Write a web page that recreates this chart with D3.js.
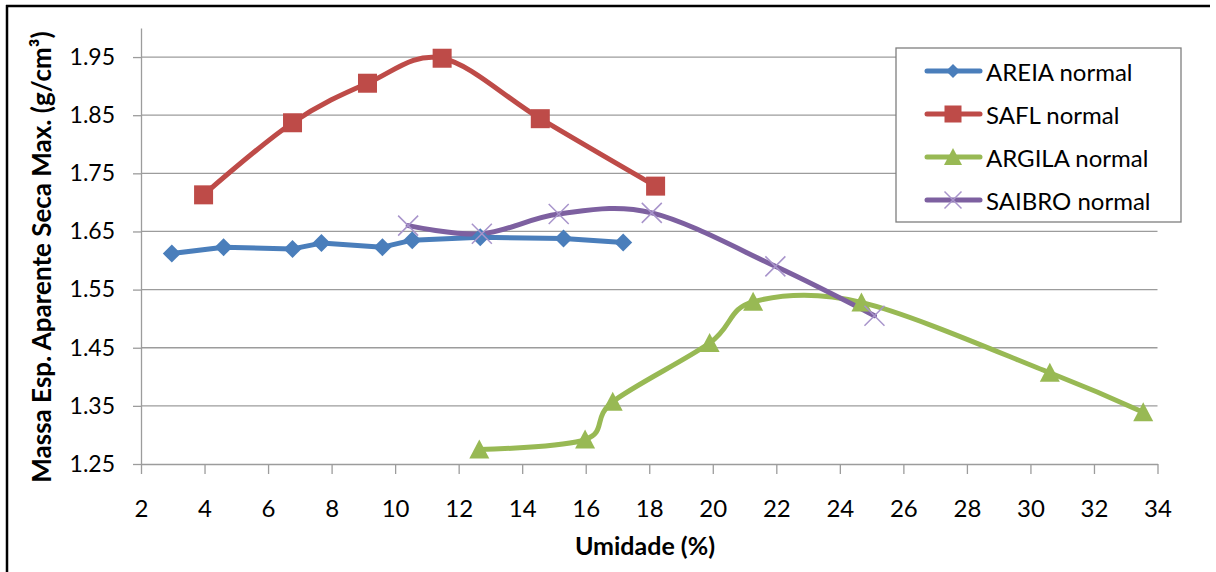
<!DOCTYPE html>
<html>
<head>
<meta charset="utf-8">
<script src="https://cdn.jsdelivr.net/npm/d3@7"></script>
<style>
  html, body { margin: 0; padding: 0; background: #fff; }
  svg { display: block; }
  text { font-family: Lato, "Noto Sans", sans-serif; fill: #000; }
</style>
</head>
<body>
<svg id="chart" width="1216" height="572"></svg>
<script>
// Compaction curves: dry unit weight vs. moisture content
const seriesNames = ["AREIA normal", "SAFL normal", "ARGILA normal", "SAIBRO normal"];

const areiaX = [2.97, 4.6, 6.77, 7.68, 9.6, 10.54, 12.68, 15.3, 17.18];
const areiaY = [1.612, 1.623, 1.620, 1.630, 1.623, 1.635, 1.640, 1.638, 1.631];

const saflX = [3.97, 6.77, 9.13, 11.48, 14.57, 18.2];
const saflY = [1.713, 1.837, 1.905, 1.948, 1.844, 1.728];

const argilaX = [12.65, 15.98, 16.85, 19.9, 21.27, 24.68, 30.61, 33.55];
const argilaY = [1.275, 1.292, 1.357, 1.458, 1.529, 1.528, 1.407, 1.339];

const saibroX = [10.41, 12.73, 15.15, 18.08, 21.97, 25.09];
const saibroY = [1.660, 1.646, 1.680, 1.682, 1.590, 1.505];

const xTicks = [2, 4, 6, 8, 10, 12, 14, 16, 18, 20, 22, 24, 26, 28, 30, 32, 34];
const yTicks = [1.25, 1.35, 1.45, 1.55, 1.65, 1.75, 1.85, 1.95];

const xTitle = "Umidade (%)";
const yTitle = "Massa Esp. Aparente Seca Max. (g/cm³)";

const svg = d3.select("#chart");

const x = d3.scaleLinear().domain([2, 34]).range([141, 1157.5]);
const y = d3.scaleLinear().domain([1.25, 2.0]).range([464, 28]);

// outer frame (top and left edges visible)
svg.append("line").attr("x1", 6).attr("x2", 1210).attr("y1", 6).attr("y2", 6)
  .attr("stroke", "#000").attr("stroke-width", 2.5);
svg.append("line").attr("x1", 7).attr("x2", 7).attr("y1", 5).attr("y2", 572)
  .attr("stroke", "#000").attr("stroke-width", 2.5);

// horizontal gridlines
svg.append("g")
  .selectAll("line")
  .data(yTicks.filter(d => d > 1.25))
  .join("line")
  .attr("x1", x(2)).attr("x2", x(34))
  .attr("y1", d => y(d)).attr("y2", d => y(d))
  .attr("stroke", "#9c9c9c").attr("stroke-width", 1.3);

// axes
const xAxis = d3.axisBottom(x).tickValues(xTicks).tickSize(10).tickSizeOuter(0).tickPadding(26)
  .tickFormat(d3.format("d"));
const gx = svg.append("g").attr("transform", `translate(0,${y(1.25)})`).call(xAxis);
gx.select(".domain").attr("stroke", "#9c9c9c").attr("stroke-width", 1.3);
gx.selectAll(".tick line").attr("stroke", "#9c9c9c").attr("stroke-width", 1.3);
gx.selectAll(".tick text").attr("font-size", 24).attr("font-family", "Lato").attr("fill", "#000");

const yAxis = d3.axisLeft(y).tickValues(yTicks).tickSize(8).tickSizeOuter(0).tickPadding(18)
  .tickFormat(d3.format(".2f"));
const gy = svg.append("g").attr("transform", `translate(${x(2)},0)`).call(yAxis);
gy.select(".domain").attr("stroke", "#9c9c9c").attr("stroke-width", 1.3);
gy.selectAll(".tick line").attr("stroke", "#9c9c9c").attr("stroke-width", 1.3);
gy.selectAll(".tick text").attr("font-size", 23).attr("font-family", "Lato").attr("fill", "#000");

// axis titles
svg.append("text")
  .attr("x", 645).attr("y", 545)
  .attr("text-anchor", "middle").attr("dominant-baseline", "central")
  .attr("font-size", 25).attr("font-weight", "bold")
  .text(xTitle);

svg.append("text")
  .attr("transform", "translate(41,257) rotate(-90)")
  .attr("text-anchor", "middle").attr("dominant-baseline", "central")
  .attr("font-size", 26).attr("font-weight", "bold")
  .text(yTitle);

// series definitions
const series = [
  { name: seriesNames[0], xs: areiaX, ys: areiaY, color: "#4a7ebb", curve: d3.curveLinear, marker: "diamond" },
  { name: seriesNames[1], xs: saflX, ys: saflY, color: "#be4b48", curve: d3.curveCatmullRom.alpha(0), marker: "square" },
  { name: seriesNames[2], xs: argilaX, ys: argilaY, color: "#98b954", curve: d3.curveCatmullRom.alpha(0), marker: "triangle" },
  { name: seriesNames[3], xs: saibroX, ys: saibroY, color: "#7d60a0", curve: d3.curveCatmullRom.alpha(0), marker: "cross" }
];

function drawMarker(g, type, color, size) {
  const s = size / 2;
  if (type === "diamond") {
    g.append("path").attr("d", `M0,${-s}L${s},0L0,${s}L${-s},0Z`).attr("fill", color);
  } else if (type === "square") {
    g.append("rect").attr("x", -s).attr("y", -s).attr("width", size).attr("height", size).attr("fill", color);
  } else if (type === "triangle") {
    g.append("path").attr("d", `M0,${-s}L${s},${s * 0.9}L${-s},${s * 0.9}Z`).attr("fill", color);
  } else if (type === "cross") {
    g.append("path").attr("d", `M${-s},${-s}L${s},${s}M${-s},${s}L${s},${-s}`)
      .attr("stroke", "#a894cb").attr("stroke-width", 1.5).attr("fill", "none");
  }
}

const markerSize = { diamond: 18, square: 19, triangle: 20, cross: 20 };

const plot = svg.append("g");
series.forEach(s => {
  const pts = s.xs.map((v, i) => [v, s.ys[i]]);
  const line = d3.line().x(d => x(d[0])).y(d => y(d[1])).curve(s.curve);
  plot.append("path").datum(pts)
    .attr("d", line).attr("fill", "none")
    .attr("stroke", s.color).attr("stroke-width", 5)
    .attr("stroke-linejoin", "round").attr("stroke-linecap", "round");
});
series.forEach(s => {
  s.xs.forEach((v, i) => {
    const g = plot.append("g").attr("transform", `translate(${x(v)},${y(s.ys[i])})`);
    drawMarker(g, s.marker, s.color, markerSize[s.marker]);
  });
});

// legend
const legend = svg.append("g");
legend.append("rect").attr("x", 896).attr("y", 48).attr("width", 285).attr("height", 174)
  .attr("fill", "#fff").attr("stroke", "#7f7f7f").attr("stroke-width", 1.3);
const legendSize = { diamond: 14, square: 17, triangle: 18, cross: 17 };
series.forEach((s, i) => {
  const cy = 71 + i * 43;
  const row = legend.append("g").attr("transform", `translate(0,${cy})`);
  row.append("line").attr("x1", 927).attr("x2", 980).attr("y1", 0).attr("y2", 0)
    .attr("stroke", s.color).attr("stroke-width", 5).attr("stroke-linecap", "round");
  const m = row.append("g").attr("transform", "translate(953,0)");
  drawMarker(m, s.marker, s.color, legendSize[s.marker]);
  row.append("text").attr("x", 986).attr("y", 0).attr("dominant-baseline", "central")
    .attr("font-size", 24).text(s.name);
});
</script>
</body>
</html>
